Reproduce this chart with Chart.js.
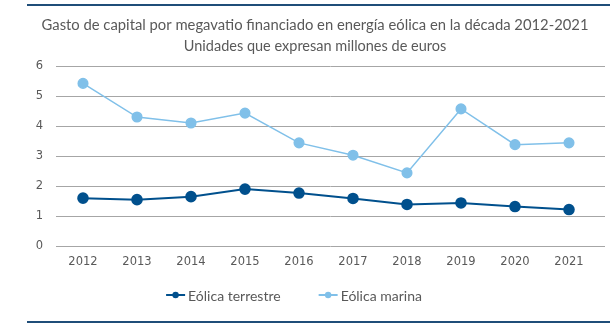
<!DOCTYPE html>
<html>
<head>
<meta charset="utf-8">
<script src="https://cdn.jsdelivr.net/npm/chart.js@4/dist/chart.umd.min.js"></script>
<style>
  html, body { margin: 0; padding: 0; background: #ffffff; }
  #wrap { width: 610px; height: 328px; }
</style>
</head>
<body>
<div id="wrap"><canvas id="grafico" width="610" height="328"></canvas></div>
<script>
const anos = ['2012', '2013', '2014', '2015', '2016', '2017', '2018', '2019', '2020', '2021'];
const terrestre = [1.6, 1.55, 1.65, 1.9, 1.77, 1.59, 1.39, 1.44, 1.32, 1.22];
const marina = [5.42, 4.3, 4.1, 4.43, 3.44, 3.03, 2.44, 4.57, 3.38, 3.44];
const ticksY = [0, 1, 2, 3, 4, 5, 6];

const corTerrestre = '#00508d';
const corMarina = '#80c0e9';
const cinza = '#595959';
const fonteLegenda = '14px Lato';

// grelha horizontal, legenda e linhas de moldura
const moldura = {
  id: 'moldura',
  beforeDatasetsDraw(chart) {
    const ctx = chart.ctx;
    const y = chart.scales.y;
    ctx.save();
    ctx.strokeStyle = '#a6a6a6';
    ctx.lineWidth = 1;
    ticksY.forEach(v => {
      const py = Math.round(y.getPixelForValue(v)) + 0.5;
      ctx.beginPath();
      ctx.moveTo(chart.chartArea.left, py);
      ctx.lineTo(605, py);
      ctx.stroke();
    });
    ctx.restore();
  },
  afterDraw(chart) {
    const ctx = chart.ctx;
    ctx.save();
    // legenda
    ctx.font = fonteLegenda;
    ctx.textBaseline = 'middle';
    const itens = chart.data.datasets.map(ds => ({ texto: ds.label, cor: ds.borderColor, w: ctx.measureText(ds.label).width }));
    const total = itens.reduce((s, it) => s + 22 + it.w, 0) + 38 * (itens.length - 1);
    let x = 294 - total / 2;
    const yLeg = 295;
    itens.forEach(it => {
      ctx.strokeStyle = it.cor;
      ctx.lineWidth = 2;
      ctx.beginPath(); ctx.moveTo(x, yLeg); ctx.lineTo(x + 19, yLeg); ctx.stroke();
      ctx.fillStyle = it.cor;
      ctx.beginPath(); ctx.arc(x + 9.5, yLeg, 3.2, 0, Math.PI * 2); ctx.fill();
      ctx.fillStyle = cinza;
      ctx.fillText(it.texto, x + 22, yLeg + 1);
      x += 22 + it.w + 38;
    });
    // linhas azuis de moldura
    ctx.strokeStyle = '#1f4e79';
    ctx.lineWidth = 2;
    ctx.beginPath(); ctx.moveTo(27, 5); ctx.lineTo(610, 5); ctx.stroke();
    ctx.beginPath(); ctx.moveTo(27, 322); ctx.lineTo(610, 322); ctx.stroke();
    ctx.restore();
  }
};

new Chart(document.getElementById('grafico').getContext('2d'), {
  type: 'line',
  data: {
    labels: anos,
    datasets: [{
      label: 'Eólica terrestre',
      data: terrestre,
      borderColor: corTerrestre,
      backgroundColor: corTerrestre,
      borderWidth: 2,
      pointRadius: 4.8,
      pointHoverRadius: 4.8
    }, {
      label: 'Eólica marina',
      data: marina,
      borderColor: corMarina,
      backgroundColor: corMarina,
      borderWidth: 1.5,
      pointRadius: 4.8,
      pointHoverRadius: 4.8
    }]
  },
  options: {
    responsive: false,
    animation: false,
    layout: { padding: { left: 34, right: 14, top: 8, bottom: 50 } },
    scales: {
      x: {
        offset: true,
        grid: { display: false, drawTicks: false },
        border: { display: false },
        ticks: { color: cinza, font: { family: 'DejaVu Sans', size: 11.5 }, padding: 9 }
      },
      y: {
        min: 0,
        max: 6,
        afterBuildTicks(scale) { scale.ticks = ticksY.map(v => ({ value: v })); },
        afterFit(scale) { scale.width = 22; },
        grid: { display: false, drawTicks: false },
        border: { display: false },
        ticks: { color: cinza, font: { family: 'DejaVu Sans', size: 11.5 }, padding: 13 }
      }
    },
    plugins: {
      title: {
        display: true,
        text: 'Gasto de capital por megavatio financiado en energía eólica en la década 2012-2021',
        color: cinza,
        font: { family: 'Lato', size: 14.8, weight: 'normal' },
        padding: { top: 8.1, bottom: 3.7 }
      },
      subtitle: {
        display: true,
        text: 'Unidades que expresan millones de euros',
        color: cinza,
        font: { family: 'Lato', size: 14.5, weight: 'normal' },
        padding: { top: 0, bottom: 11 }
      },
      legend: { display: false },
      tooltip: { enabled: false }
    }
  },
  plugins: [moldura]
});
</script>
</body>
</html>
